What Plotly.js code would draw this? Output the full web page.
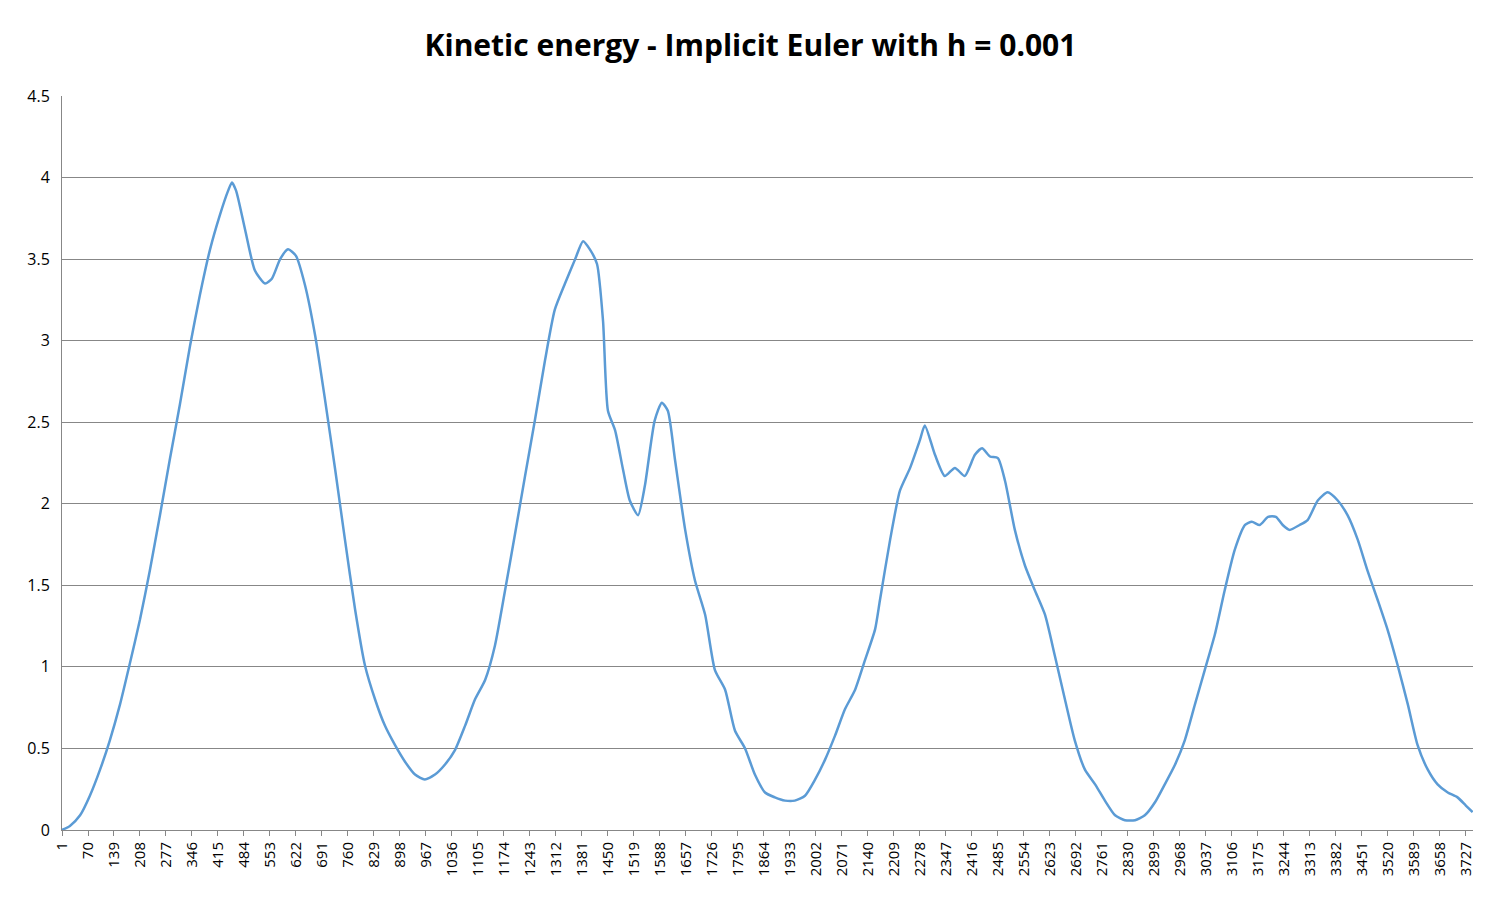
<!DOCTYPE html>
<html><head><meta charset="utf-8">
<script src="https://cdn.plot.ly/plotly-3.0.1.min.js"></script>
<style>body{margin:0;background:#fff}#c{width:1501px;height:901px}</style>
</head><body><div id="c"></div>
<script>
const steps = [1,22,49,75,102,128,155,180,208,234,261,287,314,341,367,394,420,442,452,463,487,513,540,558,580,601,622,646,673,699,726,752,779,805,832,858,885,911,938,964,991,1017,1044,1071,1097,1124,1150,1177,1203,1230,1256,1283,1309,1336,1363,1384,1402,1421,1437,1450,1469,1490,1508,1530,1548,1574,1593,1609,1628,1655,1681,1708,1734,1761,1787,1814,1840,1867,1893,1920,1946,1973,2000,2026,2053,2079,2106,2132,2159,2172,2199,2225,2252,2278,2291,2318,2344,2371,2397,2424,2443,2464,2485,2504,2530,2557,2583,2610,2636,2663,2689,2716,2743,2769,2796,2822,2849,2875,2902,2928,2955,2981,3008,3034,3061,3087,3114,3141,3159,3180,3202,3223,3241,3259,3286,3307,3334,3360,3387,3413,3440,3466,3493,3519,3546,3573,3599,3626,3652,3679,3705,3727,3745];
const energy = [0,0.025,0.09,0.21,0.37,0.55,0.77,1.01,1.29,1.59,1.93,2.27,2.61,2.97,3.28,3.56,3.77,3.92,3.97,3.92,3.68,3.43,3.35,3.38,3.50,3.56,3.52,3.34,3.03,2.64,2.21,1.78,1.35,1.01,0.80,0.64,0.52,0.42,0.34,0.31,0.34,0.40,0.49,0.64,0.80,0.92,1.13,1.47,1.81,2.17,2.51,2.88,3.19,3.35,3.50,3.61,3.56,3.47,3.12,2.57,2.45,2.21,2.02,1.93,2.11,2.51,2.62,2.57,2.27,1.84,1.53,1.32,0.98,0.86,0.61,0.50,0.34,0.23,0.20,0.18,0.18,0.21,0.31,0.43,0.58,0.74,0.86,1.04,1.23,1.41,1.78,2.08,2.22,2.39,2.48,2.30,2.17,2.22,2.17,2.30,2.34,2.29,2.28,2.14,1.84,1.62,1.47,1.32,1.07,0.80,0.55,0.37,0.28,0.18,0.09,0.06,0.06,0.09,0.17,0.28,0.40,0.55,0.77,0.98,1.20,1.47,1.72,1.87,1.89,1.87,1.92,1.92,1.87,1.84,1.87,1.90,2.02,2.07,2.02,1.93,1.78,1.59,1.41,1.23,1.01,0.77,0.52,0.37,0.28,0.23,0.20,0.15,0.11];
const tickVals = [];
for (let v = 1; v <= 3727; v += 69) tickVals.push(v);
const tickText = tickVals.map(String);
Plotly.newPlot('c', [{
  x: steps, y: energy, type: 'scatter', mode: 'lines',
  line: {color: '#5b9bd5', width: 2.5, shape: 'spline', smoothing: 0.6}
}], {
  width: 1501, height: 901, showlegend: false,
  paper_bgcolor: '#fff', plot_bgcolor: '#fff',
  margin: {l: 62, r: 28, t: 96, b: 71},
  font: {family: 'Open Sans, Liberation Sans, sans-serif', size: 14, color: '#000'},
  title: {text: '<b>Kinetic energy - Implicit Euler with h = 0.001</b>', x: 0.5, xanchor: 'center', y: 0.95, yanchor: 'middle', font: {size: 30, family: 'Open Sans, sans-serif'}},
  xaxis: {range: [1, 3746], tickvals: tickVals, ticktext: tickText, tickangle: -90,
    showgrid: false, zeroline: false, showline: true, linecolor: '#878787', ticks: 'outside', ticklen: 5, tickcolor: '#878787', tickfont: {size: 15}},
  yaxis: {range: [0, 4.5], dtick: 0.5, showgrid: true, gridcolor: '#878787', gridwidth: 1, zeroline: false,
    showline: true, linecolor: '#878787', ticks: '', tickfont: {size: 16}, ticklabelstandoff: 8}
}, {displayModeBar: false, staticPlot: true});
</script></body></html>
